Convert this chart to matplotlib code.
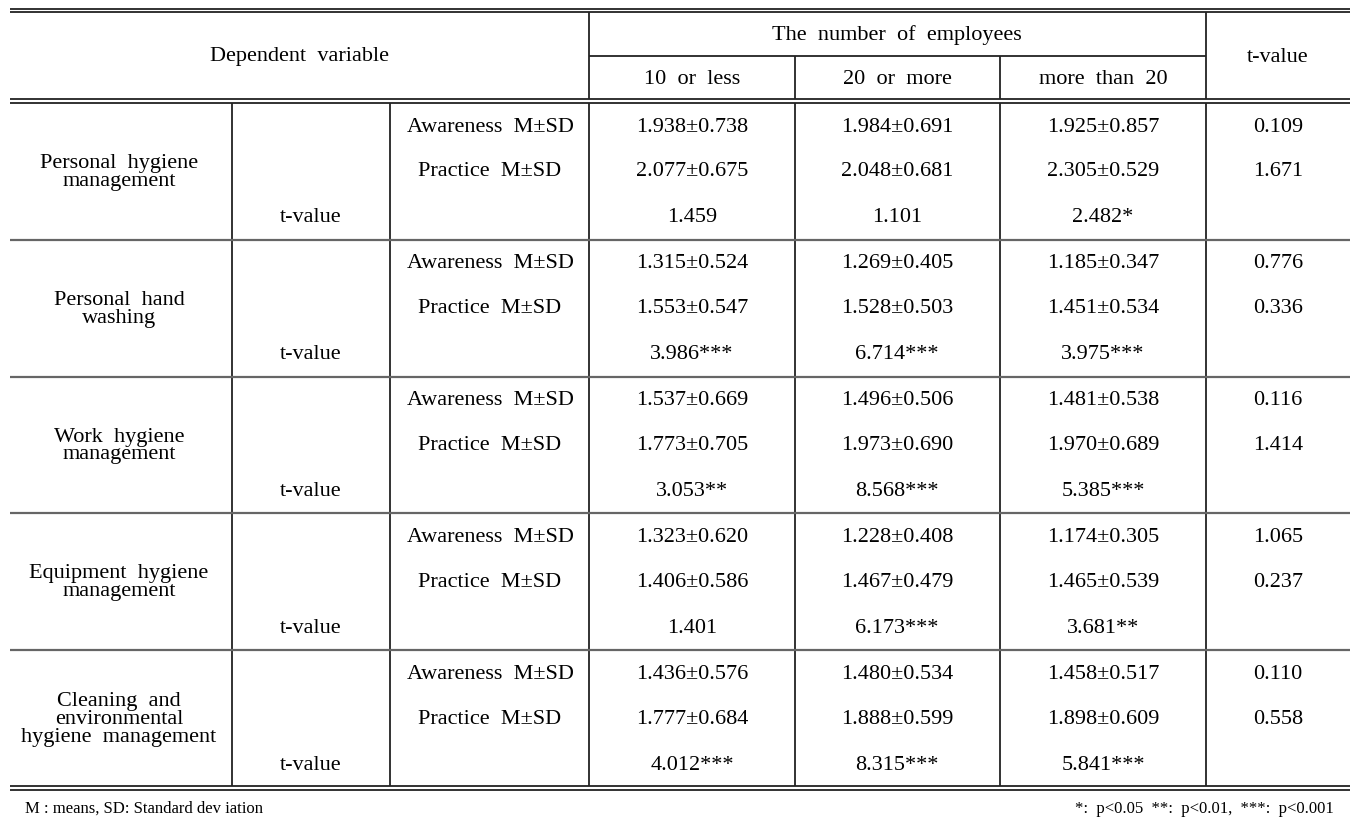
import matplotlib
matplotlib.use("Agg")
import matplotlib.pyplot as plt

plt.rcParams['font.family'] = ['Liberation Serif', 'DejaVu Serif']

# ---- data ----
groups = [["Personal  hygiene", "management"],
          ["Personal  hand", "washing"],
          ["Work  hygiene", "management"],
          ["Equipment  hygiene", "management"],
          ["Cleaning  and", "environmental", "hygiene  management"]]
row_labels = ["Awareness  M\u00b1SD", "Practice  M\u00b1SD"]
col_labels = ["10  or  less", "20  or  more", "more  than  20"]
awareness = [["1.938\u00b10.738", "1.984\u00b10.691", "1.925\u00b10.857"],
             ["1.315\u00b10.524", "1.269\u00b10.405", "1.185\u00b10.347"],
             ["1.537\u00b10.669", "1.496\u00b10.506", "1.481\u00b10.538"],
             ["1.323\u00b10.620", "1.228\u00b10.408", "1.174\u00b10.305"],
             ["1.436\u00b10.576", "1.480\u00b10.534", "1.458\u00b10.517"]]
practice = [["2.077\u00b10.675", "2.048\u00b10.681", "2.305\u00b10.529"],
            ["1.553\u00b10.547", "1.528\u00b10.503", "1.451\u00b10.534"],
            ["1.773\u00b10.705", "1.973\u00b10.690", "1.970\u00b10.689"],
            ["1.406\u00b10.586", "1.467\u00b10.479", "1.465\u00b10.539"],
            ["1.777\u00b10.684", "1.888\u00b10.599", "1.898\u00b10.609"]]
t_cols = [["1.459", "1.101", "2.482*"],
          ["3.986***", "6.714***", "3.975***"],
          ["3.053**", "8.568***", "5.385***"],
          ["1.401", "6.173***", "3.681**"],
          ["4.012***", "8.315***", "5.841***"]]
t_rows = [["0.109", "1.671"],
          ["0.776", "0.336"],
          ["0.116", "1.414"],
          ["1.065", "0.237"],
          ["0.110", "0.558"]]
footnote_left = "M : means, SD: Standard dev iation"
footnote_right = "*:  p<0.05  **:  p<0.01,  ***:  p<0.001"

# ---- layout (pixel coordinates) ----
W, H = 1369, 826
fig = plt.figure(figsize=(W / 100, H / 100), dpi=100)
ax = fig.add_axes([0, 0, 1, 1])
ax.set_xlim(0, W)
ax.set_ylim(H, 0)
ax.axis('off')

L, R = 10, 1350
xv = [232, 390, 589, 795, 1000, 1206]
col_cx = [692, 897, 1103]
tcol_cx = 1278
lab_cx = 490
tval_cx = 311
grp_cx = 119
body_top = 103
body_bot = 787
gh = (body_bot - body_top) / len(groups)

dark = '#222222'
gray = '#666666'
lw = 1.3
fs = 16

def hline(y, x0=L, x1=R, c=dark, w=lw):
    ax.plot([x0, x1], [y, y], color=c, lw=w, solid_capstyle='butt')

def vline(x, y0, y1, c=dark, w=lw):
    ax.plot([x, x], [y0, y1], color=c, lw=w, solid_capstyle='butt')

# top double line
hline(8.5); hline(12)
# header double line
hline(99); hline(103)
# sub header line
hline(56, xv[2], xv[5])
# bottom double line
hline(786); hline(789.5)

# header verticals
vline(xv[2], 12, 99)
vline(xv[5], 12, 99)
vline(xv[3], 56, 99)
vline(xv[4], 56, 99)
# body verticals
for x in xv:
    vline(x, 103, 786)

# group separators
for g in range(1, len(groups)):
    hline(body_top + g * gh, c=gray, w=1.6)

# header text
ax.text(300, 57, "Dependent  variable", ha='center', va='center', fontsize=fs)
ax.text(897, 35, "The  number  of  employees", ha='center', va='center', fontsize=fs)
for cx, lab in zip(col_cx, col_labels):
    ax.text(cx, 79, lab, ha='center', va='center', fontsize=fs)
ax.text(tcol_cx, 57, "t-value", ha='center', va='center', fontsize=fs)

# body
for g, name in enumerate(groups):
    top = body_top + g * gh
    ya, yp, yt = top + 24, top + 69, top + 115
    ax.text(grp_cx, top + gh / 2 + 1, "\n".join(name), ha='center', va='center',
            fontsize=fs, linespacing=0.92)
    ax.text(lab_cx, ya, row_labels[0], ha='center', va='center', fontsize=fs)
    ax.text(lab_cx, yp, row_labels[1], ha='center', va='center', fontsize=fs)
    ax.text(tval_cx, yt, "t-value", ha='center', va='center', fontsize=fs)
    for c in range(3):
        ax.text(col_cx[c], ya, awareness[g][c], ha='center', va='center', fontsize=fs)
        ax.text(col_cx[c], yp, practice[g][c], ha='center', va='center', fontsize=fs)
        ax.text(col_cx[c], yt, t_cols[g][c], ha='center', va='center', fontsize=fs)
    ax.text(tcol_cx, ya, t_rows[g][0], ha='center', va='center', fontsize=fs)
    ax.text(tcol_cx, yp, t_rows[g][1], ha='center', va='center', fontsize=fs)

# footnotes
ax.text(25, 809, footnote_left, ha='left', va='center', fontsize=12)
ax.text(1334, 809, footnote_right, ha='right', va='center', fontsize=12)

fig.savefig("out.png", dpi=100, facecolor='white')
